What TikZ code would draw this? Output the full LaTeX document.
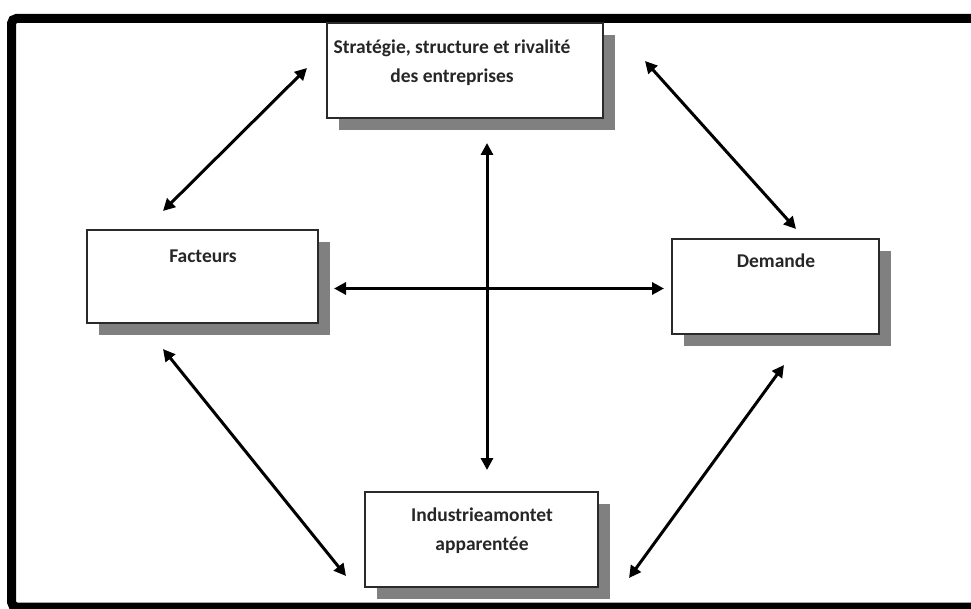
\documentclass[tikz,border=0pt]{standalone}
\usepackage{fontspec}
\setmainfont{Carlito}
\usetikzlibrary{arrows.meta,shadows}
\definecolor{boxline}{HTML}{2A2A2A}
\definecolor{shadowgray}{HTML}{808080}
\definecolor{txt}{HTML}{262626}
\tikzset{
  panel/.style={draw=boxline, line width=2pt, fill=white, rectangle, inner sep=0pt,
    drop shadow={shadow xshift=11.5pt, shadow yshift=-12pt, fill=shadowgray, opacity=1}},
  caption/.style={font=\bfseries\fontsize{19.5}{29}\selectfont, text=txt, align=center, inner sep=0pt},
  link/.style={line width=3pt, {Triangle[length=12pt,width=12pt]}-{Triangle[length=12pt,width=12pt]}}
}
\begin{document}
\begin{tikzpicture}[x=1pt,y=-1pt]
\useasboundingbox (0,0) rectangle (971,609);
\fill[white] (0,0) rectangle (971,609);
% outer frame
\draw[line width=9pt, rounded corners=5pt] (990,18.5) -- (11.5,18.5) -- (11.5,607) -- (990,607);

% boxes
\node[panel, minimum width=276pt, minimum height=95pt] (strat) at (465,71) {};
\node[panel, minimum width=231pt, minimum height=93pt] (fact) at (202.5,276.5) {};
\node[panel, minimum width=207pt, minimum height=95pt] (dem) at (775.5,286.5) {};
\node[panel, minimum width=233pt, minimum height=95pt] (ind) at (481.5,539.5) {};

% captions
\node[caption] (stratT) at (452,62.5) {Stratégie, structure et rivalité\\des entreprises};
\node[caption] (factT) at (203,256) {Facteurs};
\node[caption] (demT) at (776,261) {Demande};
\node[caption] (indT) at (482,531) {Industrieamontet\\apparentée};

% connector end points
\coordinate (a1) at (163,211); \coordinate (a2) at (307,68);
\coordinate (b1) at (645,61);  \coordinate (b2) at (796,229);
\coordinate (c1) at (163,349); \coordinate (c2) at (346,576);
\coordinate (d1) at (784,365); \coordinate (d2) at (629,578);
\coordinate (v1) at (487,143); \coordinate (v2) at (487,470);
\coordinate (h1) at (334,288.5); \coordinate (h2) at (664,288.5);

\draw[link] (a1) -- (a2);
\draw[link] (b1) -- (b2);
\draw[link] (c1) -- (c2);
\draw[link] (d1) -- (d2);
\draw[link] (v1) -- (v2);
\draw[link] (h1) -- (h2);
\end{tikzpicture}
\end{document}
